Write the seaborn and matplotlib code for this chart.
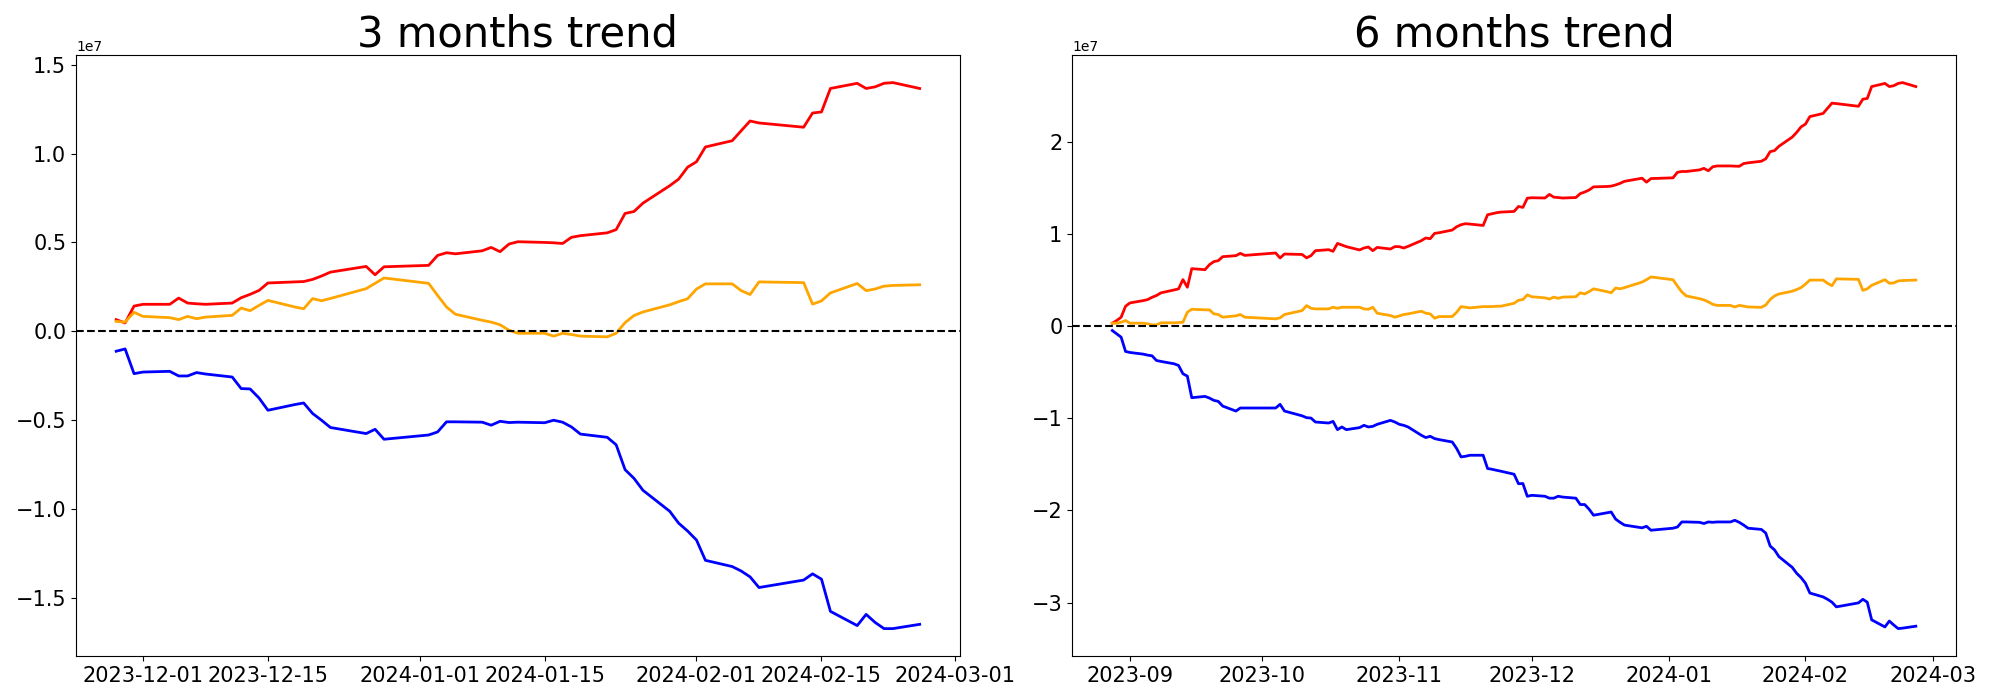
import pandas as pd
import matplotlib
matplotlib.use("Agg")
import matplotlib.pyplot as plt
import seaborn as sns

# market holidays (no trading days)
holidays = ["2023-09-28", "2023-09-29", "2023-10-02", "2023-10-03", "2023-10-09",
            "2023-12-25", "2023-12-29", "2024-01-01", "2024-02-09", "2024-02-12"]

dates_3m = pd.bdate_range("2023-11-28", "2024-02-26", freq="C", holidays=holidays)
dates_6m = pd.bdate_range("2023-08-28", "2024-02-26", freq="C", holidays=holidays)

# 3 months, values in 1e7
red_3m = [0.066, 0.047, 0.142, 0.152,
          0.152, 0.187, 0.159, 0.155, 0.152,
          0.159, 0.189, 0.208, 0.230, 0.272,
          0.278, 0.280, 0.292, 0.311, 0.333,
          0.365, 0.318, 0.363,
          0.371, 0.427, 0.442, 0.436,
          0.453, 0.472, 0.448, 0.491, 0.504,
          0.500, 0.498, 0.494, 0.529, 0.538,
          0.554, 0.572, 0.663, 0.674, 0.721,
          0.819, 0.856, 0.923, 0.954, 1.037,
          1.072, 1.128, 1.183, 1.172,
          1.148, 1.228, 1.234, 1.366,
          1.395, 1.366, 1.375, 1.395, 1.399,
          1.366]
orange_3m = [0.056, 0.052, 0.107, 0.084,
             0.077, 0.066, 0.084, 0.071, 0.080,
             0.090, 0.131, 0.116, 0.146, 0.174,
             0.137, 0.127, 0.184, 0.172, 0.185,
             0.240, 0.270, 0.300,
             0.270, 0.202, 0.137, 0.096,
             0.062, 0.052, 0.037, 0.006, -0.011,
             -0.011, -0.027, -0.011, -0.018, -0.027,
             -0.031, -0.011, 0.049, 0.089, 0.109,
             0.149, 0.167, 0.183, 0.238, 0.267,
             0.267, 0.229, 0.207, 0.278,
             0.274, 0.153, 0.171, 0.216,
             0.269, 0.229, 0.238, 0.254, 0.258,
             0.262]
blue_3m = [-0.112, -0.099, -0.238, -0.229,
           -0.225, -0.251, -0.251, -0.232, -0.240,
           -0.257, -0.322, -0.324, -0.375, -0.444,
           -0.412, -0.403, -0.462, -0.500, -0.541,
           -0.575, -0.551, -0.607,
           -0.583, -0.566, -0.509, -0.509,
           -0.511, -0.528, -0.506, -0.513, -0.511,
           -0.514, -0.500, -0.511, -0.538, -0.578,
           -0.596, -0.638, -0.778, -0.827, -0.894,
           -1.012, -1.079, -1.123, -1.174, -1.288,
           -1.323, -1.348, -1.381, -1.441,
           -1.399, -1.364, -1.394, -1.575,
           -1.655, -1.592, -1.637, -1.672, -1.672,
           -1.648]

# 6 months, values in 1e7
red_6m = [0.033, 0.062, 0.098, 0.217,
          0.253, 0.278, 0.289, 0.314, 0.333, 0.362, 0.394, 0.405, 0.506, 0.423, 0.625,
          0.614, 0.668, 0.701, 0.712, 0.755, 0.766, 0.791, 0.769,
          0.795, 0.741, 0.784, 0.779, 0.742, 0.766, 0.820, 0.831, 0.813, 0.899, 0.882, 0.864,
          0.828, 0.849, 0.860, 0.820, 0.856, 0.838, 0.864,
          0.864, 0.849, 0.867, 0.929, 0.958, 0.950, 1.008, 1.015, 1.044, 1.080, 1.102, 1.113, 1.109,
          1.094, 1.210, 1.221, 1.232, 1.239, 1.246, 1.300, 1.290, 1.390,
          1.395, 1.392, 1.431, 1.401, 1.397, 1.392, 1.397, 1.440, 1.457, 1.479, 1.513,
          1.517, 1.521, 1.534, 1.551, 1.573, 1.607, 1.564, 1.603,
          1.611, 1.671, 1.680, 1.680, 1.697, 1.714, 1.688, 1.731, 1.740, 1.740, 1.738, 1.736, 1.766, 1.774,
          1.791, 1.817, 1.895, 1.907, 1.954, 2.053, 2.104, 2.164,
          2.194, 2.276, 2.310, 2.366, 2.422, 2.417, 2.388, 2.465, 2.473, 2.602,
          2.636, 2.602, 2.611, 2.636, 2.645, 2.602]
orange_6m = [0.033, 0.033, 0.043, 0.062,
             0.033, 0.033, 0.026, 0.015, 0.015, 0.037, 0.037, 0.040, 0.043, 0.152, 0.184,
             0.178, 0.178, 0.134, 0.127, 0.098, 0.113, 0.127, 0.098,
             0.080, 0.091, 0.127, 0.170, 0.224, 0.195, 0.188, 0.188, 0.206, 0.195, 0.206, 0.206,
             0.206, 0.188, 0.184, 0.206, 0.141, 0.116, 0.098,
             0.112, 0.127, 0.134, 0.163, 0.141, 0.134, 0.087, 0.105, 0.105, 0.152, 0.213, 0.206, 0.199,
             0.213, 0.213, 0.213, 0.217, 0.217, 0.249, 0.282, 0.290, 0.340,
             0.320, 0.308, 0.295, 0.316, 0.303, 0.316, 0.320, 0.363, 0.350, 0.376, 0.406,
             0.376, 0.363, 0.415, 0.406, 0.419, 0.479, 0.505, 0.535,
             0.505, 0.436, 0.372, 0.329, 0.299, 0.286, 0.264, 0.238, 0.226, 0.226, 0.209, 0.226, 0.218, 0.209,
             0.205, 0.230, 0.290, 0.329, 0.350, 0.380, 0.398, 0.419,
             0.457, 0.501, 0.501, 0.466, 0.440, 0.514, 0.509, 0.389, 0.406, 0.444,
             0.505, 0.466, 0.470, 0.492, 0.496, 0.501]
blue_6m = [-0.047, -0.083, -0.119, -0.274,
           -0.285, -0.303, -0.314, -0.321, -0.372, -0.382, -0.408, -0.426, -0.516, -0.542, -0.776,
           -0.762, -0.780, -0.805, -0.816, -0.867, -0.921, -0.888, -0.888,
           -0.888, -0.848, -0.921, -0.973, -0.993, -0.997, -1.040, -1.051, -1.033, -1.123, -1.094, -1.123,
           -1.101, -1.076, -1.094, -1.087, -1.065, -1.022, -1.040,
           -1.065, -1.076, -1.094, -1.184, -1.209, -1.195, -1.220, -1.231, -1.257, -1.328, -1.419, -1.412, -1.401,
           -1.401, -1.545, -1.553, -1.564, -1.574, -1.607, -1.710, -1.708, -1.847,
           -1.836, -1.846, -1.867, -1.867, -1.846, -1.855, -1.867, -1.936, -1.936, -1.987, -2.052,
           -2.026, -2.017, -2.094, -2.129, -2.159, -2.189, -2.172, -2.215,
           -2.193, -2.180, -2.125, -2.125, -2.129, -2.142, -2.125, -2.129, -2.125, -2.125, -2.107, -2.129, -2.159, -2.193,
           -2.206, -2.245, -2.386, -2.429, -2.502, -2.618, -2.682, -2.729,
           -2.790, -2.897, -2.939, -2.965, -2.996, -3.047, -3.004, -2.965, -2.996, -3.188,
           -3.265, -3.201, -3.244, -3.283, -3.278, -3.257]

scale = 1e7

fig, axes = plt.subplots(1, 2, figsize=(20, 7))
plt.subplots_adjust(left=0.038, right=0.978, bottom=0.063, top=0.921, wspace=0.127)

panels = [
    (axes[0], dates_3m, red_3m, orange_3m, blue_3m, "3 months trend"),
    (axes[1], dates_6m, red_6m, orange_6m, blue_6m, "6 months trend"),
]

for ax, dates, red, orange, blue, title in panels:
    df = pd.DataFrame({"date": dates,
                       "red": [v * scale for v in red],
                       "orange": [v * scale for v in orange],
                       "blue": [v * scale for v in blue]})
    sns.lineplot(data=df, x="date", y="red", color="red", linewidth=2, ax=ax)
    sns.lineplot(data=df, x="date", y="orange", color="orange", linewidth=2, ax=ax)
    sns.lineplot(data=df, x="date", y="blue", color="blue", linewidth=2, ax=ax)
    ax.axhline(0, color="black", linestyle="--", linewidth=1.5)
    ax.set_title(title, fontsize=30)
    ax.set_xlabel("")
    ax.set_ylabel("")
    ax.tick_params(axis="both", labelsize=15)

plt.savefig("out.png", dpi=100)
plt.close()
